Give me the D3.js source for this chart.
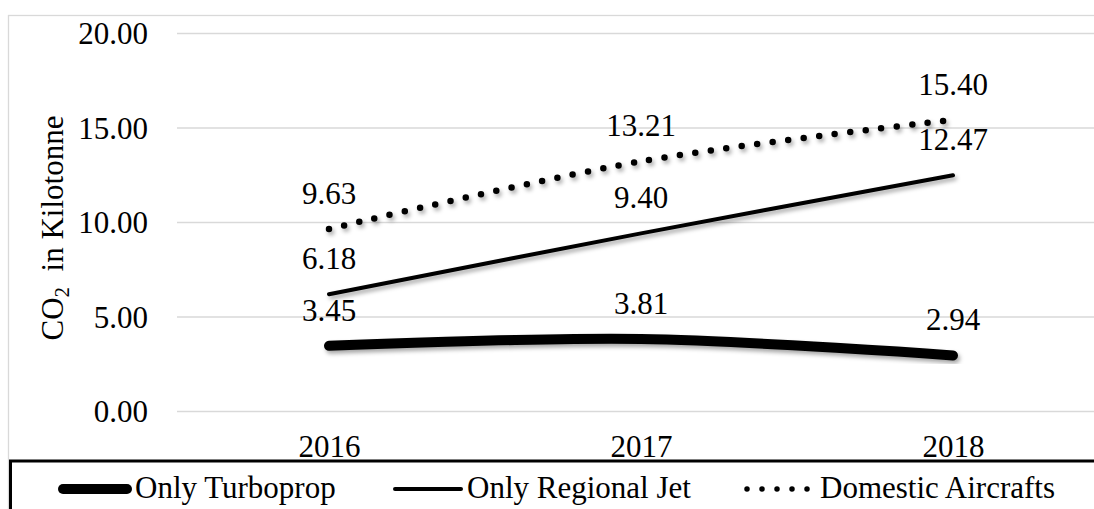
<!DOCTYPE html>
<html>
<head>
<meta charset="utf-8">
<script src="https://cdn.jsdelivr.net/npm/d3@7/dist/d3.min.js"></script>
</head>
<body style="margin:0;background:#fff">
<svg id="co2" width="1094" height="509" font-family="Liberation Serif" style="display:block"></svg>
<script>
// Emissions per fleet type, kilotonnes of CO2
const years = ["2016", "2017", "2018"];
const turboprop = [3.45, 3.81, 2.94];
const regionalJet = [6.18, 9.40, 12.47];
const domesticAircrafts = [9.63, 13.21, 15.40];
const seriesNames = ["Only Turboprop", "Only Regional Jet", "Domestic Aircrafts"];
const yTicks = [0, 5, 10, 15, 20];

const W = 1094, H = 509;
const svg = d3.select("#co2");
const FONT = 31;

// every label uses the same serif face
const styleText = sel => sel
  .attr("font-family", "Liberation Serif")
  .style("font-family", '"Liberation Serif", "Times New Roman", serif')
  .attr("font-size", FONT)
  .attr("fill", "#000");

// soft drop shadow for the series lines
const defs = svg.append("defs");
const f = defs.append("filter").attr("id", "shadow")
  .attr("x", "-10%").attr("y", "-50%").attr("width", "120%").attr("height", "200%");
f.append("feDropShadow").attr("dx", 2).attr("dy", 3).attr("stdDeviation", 2)
  .attr("flood-color", "#000").attr("flood-opacity", 0.35);

// outer chart frame
svg.append("rect")
  .attr("x", 8.5).attr("y", 15.5).attr("width", W + 20).attr("height", H + 20)
  .attr("fill", "#fff").attr("stroke", "#d9d9d9").attr("stroke-width", 1.3);

const plotLeft = 177, plotRight = 1109;
const x = d3.scalePoint().domain(years).range([plotLeft - 4, plotRight]).padding(0.5);
const y = d3.scaleLinear().domain([0, 20]).range([411, 33]);

// value axis with gridlines
const yAxis = svg.append("g")
  .attr("transform", `translate(${plotLeft},0)`)
  .call(d3.axisLeft(y).tickValues(yTicks).tickSize(-(plotRight - plotLeft))
    .tickPadding(29).tickFormat(d3.format(".2f")));
yAxis.attr("font-family", "Liberation Serif");
yAxis.select(".domain").remove();
yAxis.selectAll(".tick line").attr("stroke", "#d9d9d9").attr("stroke-width", 1.3);
yAxis.selectAll(".tick text").call(styleText).attr("dy", "0.34em");

// category axis labels
const xAxis = svg.append("g")
  .attr("transform", "translate(0,457)")
  .call(d3.axisBottom(x).tickSize(0));
xAxis.attr("font-family", "Liberation Serif");
xAxis.select(".domain").remove();
xAxis.selectAll(".tick text").call(styleText).attr("y", 0).attr("dy", 0);

// axis title
const yTitle = svg.append("text")
  .attr("transform", "translate(63,228) rotate(-90)")
  .attr("text-anchor", "middle")
  .call(styleText);
yTitle.append("tspan").text("CO");
yTitle.append("tspan").attr("font-size", 21).attr("dy", 6).text("2");
yTitle.append("tspan").attr("dy", -6).text("\u00a0 in Kilotonne");

const line = d3.line()
  .x((d, i) => x(years[i]))
  .y(d => y(d))
  .curve(d3.curveCatmullRom.alpha(0.5));

const series = [
  { name: seriesNames[0], values: turboprop, width: 10, dash: null },
  { name: seriesNames[1], values: regionalJet, width: 4, dash: null },
  { name: seriesNames[2], values: domesticAircrafts, width: 6.5, dash: "0 15.6" }
];

series.forEach(s => {
  svg.append("path")
    .datum(s.values)
    .attr("d", line)
    .attr("fill", "none")
    .attr("stroke", "#000")
    .attr("stroke-width", s.width)
    .attr("stroke-linecap", "round")
    .attr("stroke-linejoin", "round")
    .attr("stroke-dasharray", s.dash)
    .attr("filter", "url(#shadow)");
});

// value labels above each point
series.forEach(s => {
  svg.append("g").selectAll("text")
    .data(s.values)
    .join("text")
    .attr("x", (d, i) => x(years[i]))
    .attr("y", d => y(d) - 25)
    .attr("text-anchor", "middle")
    .call(styleText)
    .text(d => d3.format(".2f")(d));
});

// legend box
svg.append("rect")
  .attr("x", 10.5).attr("y", 461).attr("width", W + 20).attr("height", 80)
  .attr("fill", "#fff").attr("stroke", "#000").attr("stroke-width", 3);

const legendItems = [
  { s: series[0], x0: 63, x1: 127, tx: 135 },
  { s: series[1], x0: 395, x1: 461, tx: 467 },
  { s: series[2], x0: 747, x1: 809, tx: 820 }
];
const lg = svg.append("g");
legendItems.forEach(it => {
  lg.append("path")
    .attr("d", d3.line()([[it.x0, 489], [it.x1, 489]]))
    .attr("stroke", "#000")
    .attr("stroke-width", it.s.width === 6.5 ? 5.5 : it.s.width)
    .attr("stroke-linecap", "round")
    .attr("stroke-dasharray", it.s.dash ? "0 15" : null)
    .attr("fill", "none");
  lg.append("text")
    .attr("x", it.tx).attr("y", 498)
    .call(styleText)
    .text(it.s.name);
});
</script>
</body>
</html>
